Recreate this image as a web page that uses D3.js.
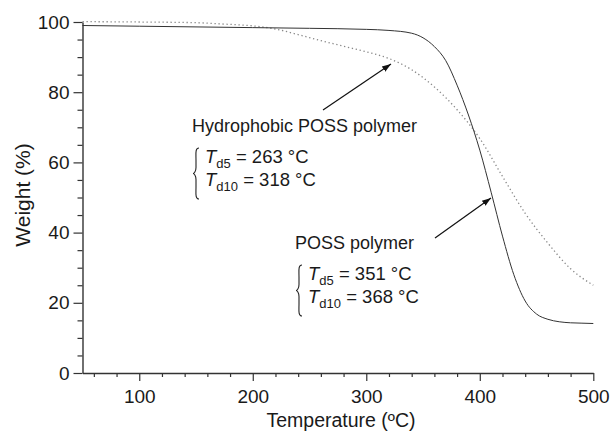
<!DOCTYPE html>
<html>
<head>
<meta charset="utf-8">
<script src="https://cdn.jsdelivr.net/npm/d3@7"></script>
<style>
  body { margin: 0; background: #fff; }
  svg text { font-family: "Liberation Sans", Arial, sans-serif; fill: #1a1a1a; }
</style>
</head>
<body>
<div id="chart"></div>
<script>
// data
var possTemp = [50, 100, 150, 200, 250, 300, 320, 340, 350, 360, 370, 380, 390, 400, 410, 420, 430, 440, 450, 460, 470, 480, 490, 500];
var possWeight = [99.0, 98.8, 98.6, 98.4, 98.2, 97.9, 97.6, 96.8, 95.5, 93.0, 89.0, 82.0, 73.5, 63.5, 51.5, 39.0, 28.0, 20.5, 16.8, 15.3, 14.6, 14.3, 14.2, 14.1];

var hydroTemp = [50, 100, 150, 175, 200, 220, 240, 260, 280, 300, 320, 340, 360, 380, 400, 420, 440, 460, 480, 500];
var hydroWeight = [100.1, 100.0, 99.8, 99.4, 98.9, 98.0, 96.4, 94.7, 93.1, 91.5, 89.6, 86.4, 81.5, 75.0, 66.8, 56.0, 45.5, 37.0, 29.7, 25.0];

var xTicks = [100, 200, 300, 400, 500];
var yTicks = [0, 20, 40, 60, 80, 100];

var svgWidth = 611;
var svgHeight = 433;

var svg = d3.select("#chart")
  .append("svg")
  .attr("width", svgWidth)
  .attr("height", svgHeight);

var defs = svg.append("defs");
defs.append("marker")
  .attr("id", "arrow")
  .attr("viewBox", "0 0 10 10")
  .attr("refX", 10)
  .attr("refY", 5)
  .attr("markerWidth", 9)
  .attr("markerHeight", 9)
  .attr("markerUnits", "userSpaceOnUse")
  .attr("orient", "auto")
  .append("path")
  .attr("d", "M0,1.5 L10,5 L0,8.5 Z")
  .attr("fill", "#111");

var x = d3.scaleLinear().domain([50, 500]).range([82.5, 593.3]);
var y = d3.scaleLinear().domain([0, 100]).range([373, 22]);

// minor ticks first, then the major ones on top
var xMinor = d3.range(60, 501, 20).filter(d => xTicks.indexOf(d) < 0);
var yMinor = d3.range(5, 101, 5).filter(d => yTicks.indexOf(d) < 0);

svg.append("g")
  .attr("transform", "translate(0,373)")
  .call(d3.axisBottom(x).tickValues(xMinor).tickSize(4).tickFormat(""))
  .call(g => g.select(".domain").remove());

svg.append("g")
  .attr("transform", "translate(82.5,0)")
  .call(d3.axisLeft(y).tickValues(yMinor).tickSize(5).tickFormat(""))
  .call(g => g.select(".domain").remove());

var xAxis = svg.append("g")
  .attr("transform", "translate(0,373)")
  .call(d3.axisBottom(x).tickValues(xTicks).tickSize(8).tickSizeOuter(0).tickPadding(5));

var yAxis = svg.append("g")
  .attr("transform", "translate(82.5,0)")
  .call(d3.axisLeft(y).tickValues(yTicks).tickSize(9).tickSizeOuter(0).tickPadding(4));

svg.selectAll(".tick line").attr("stroke", "#333").attr("stroke-width", 1.2);
svg.selectAll(".domain").attr("stroke", "#333").attr("stroke-width", 1.4);
xAxis.selectAll("text").attr("font-size", "19px").attr("dy", "0.9em").attr("fill", "#1a1a1a");
yAxis.selectAll("text").attr("font-size", "19px").attr("fill", "#1a1a1a");

// axis titles
svg.append("text")
  .attr("x", 341)
  .attr("y", 427)
  .attr("text-anchor", "middle")
  .attr("font-size", "19.5px")
  .text("Temperature (ºC)");

svg.append("text")
  .attr("transform", "translate(30,195) rotate(-90)")
  .attr("text-anchor", "middle")
  .attr("font-size", "21px")
  .text("Weight (%)");

// curves
var line = d3.line().curve(d3.curveMonotoneX);

svg.append("path")
  .attr("d", line(hydroTemp.map((t, i) => [x(t), y(hydroWeight[i])])))
  .attr("fill", "none")
  .attr("stroke", "#888")
  .attr("stroke-width", 1.3)
  .attr("stroke-dasharray", "1.3,2.7");

svg.append("path")
  .attr("d", line(possTemp.map((t, i) => [x(t), y(possWeight[i])])))
  .attr("fill", "none")
  .attr("stroke", "#333")
  .attr("stroke-width", 1);

// annotations
function brace(x0, y0, h) {
  var m = y0 + h / 2;
  return "M" + (x0 + 5) + "," + y0 +
    " C" + (x0 + 1) + "," + y0 + " " + (x0 + 2) + "," + (y0 + 6) + " " + (x0 + 2) + "," + (y0 + 12) +
    " L" + (x0 + 2) + "," + (m - 6) +
    " C" + (x0 + 2) + "," + (m - 2) + " " + x0 + "," + m + " " + (x0 - 1) + "," + m +
    " C" + x0 + "," + m + " " + (x0 + 2) + "," + (m + 2) + " " + (x0 + 2) + "," + (m + 6) +
    " L" + (x0 + 2) + "," + (y0 + h - 12) +
    " C" + (x0 + 2) + "," + (y0 + h - 6) + " " + (x0 + 1) + "," + (y0 + h) + " " + (x0 + 5) + "," + (y0 + h);
}

function note(title, tx, ty, sub1, sub2, v1, v2, ax0, ay0, ax1, ay1) {
  var g = svg.append("g");
  g.append("text")
    .attr("x", tx)
    .attr("y", ty)
    .attr("font-size", "18px")
    .text(title);
  g.append("path")
    .attr("d", brace(tx + 2, ty + 16, 51))
    .attr("fill", "none")
    .attr("stroke", "#222")
    .attr("stroke-width", 1.1);
  [[sub1, v1, ty + 31], [sub2, v2, ty + 54]].forEach(function(r) {
    var t = g.append("text")
      .attr("x", tx + 13)
      .attr("y", r[2])
      .attr("font-size", "18.5px");
    t.append("tspan").attr("font-style", "italic").text("T");
    t.append("tspan").attr("font-size", "13px").attr("dy", 5).text(r[0]);
    t.append("tspan").attr("dy", -5).text(" = " + r[1] + " °C");
  });
  g.append("line")
    .attr("x1", ax0).attr("y1", ay0)
    .attr("x2", ax1).attr("y2", ay1)
    .attr("stroke", "#111")
    .attr("stroke-width", 1.2)
    .attr("marker-end", "url(#arrow)");
}

note("Hydrophobic POSS polymer", 192, 132, "d5", "d10", 263, 318, 323, 110, 391, 64);
note("POSS polymer", 295, 249, "d5", "d10", 351, 368, 435, 238, 491, 198);
</script>
</body>
</html>
